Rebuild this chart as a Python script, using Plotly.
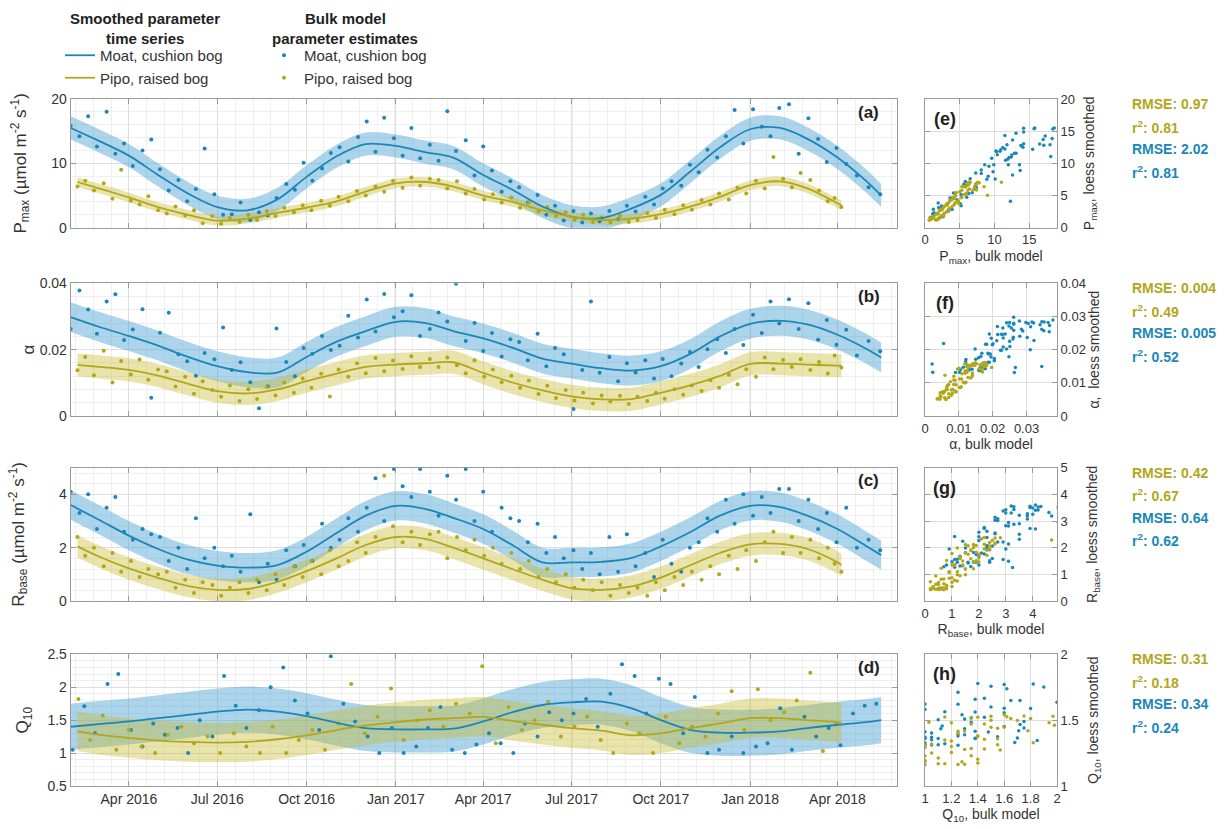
import numpy as np
import pandas as pd
import plotly.graph_objects as go

ORIGIN = pd.Timestamp("2016-02-01")

# ---------------- smoothed (loess) time series, monthly knots ----------------
MOAT_KNOTS = ["2016-02-01", "2016-03-01", "2016-04-01", "2016-05-01", "2016-06-01", "2016-07-01",
              "2016-08-01", "2016-09-01", "2016-10-01", "2016-11-01", "2016-12-01", "2017-01-01",
              "2017-02-01", "2017-03-01", "2017-04-01", "2017-05-01", "2017-06-01", "2017-07-01",
              "2017-08-01", "2017-09-01", "2017-10-01", "2017-11-01", "2017-12-01", "2018-01-01",
              "2018-02-01", "2018-03-01", "2018-04-01", "2018-05-01", "2018-05-16"]
PIPO_KNOTS = ["2016-02-08", "2016-03-01", "2016-04-01", "2016-05-01", "2016-06-01", "2016-07-01",
              "2016-08-01", "2016-09-01", "2016-10-01", "2016-11-01", "2016-12-01", "2017-01-01",
              "2017-02-01", "2017-03-01", "2017-04-01", "2017-05-01", "2017-06-01", "2017-07-01",
              "2017-08-01", "2017-09-01", "2017-10-01", "2017-11-01", "2017-12-01", "2018-01-01",
              "2018-02-01", "2018-03-01", "2018-04-01", "2018-04-05"]

PMAX_MOAT_SMOOTH = [15.5, 13.5, 11.2, 8.2, 5.3, 3.2, 2.7, 4.4, 7.9, 11.1, 13.0, 12.7, 11.7, 10.9, 8.2,
                    5.9, 3.3, 1.7, 1.5, 3.0, 5.1, 8.8, 12.5, 15.3, 15.5, 13.8, 10.9, 7.2, 5.0]
PMAX_PIPO_SMOOTH = [7.1, 6.1, 4.7, 3.2, 2.0, 1.1, 1.4, 2.3, 3.1, 4.1, 5.6, 6.9, 7.1, 6.4, 5.0,
                    4.0, 2.7, 1.7, 1.2, 1.4, 2.1, 3.3, 4.8, 6.6, 7.2, 6.1, 3.8, 3.5]
ALPHA_MOAT_SMOOTH = [0.0298, 0.0269, 0.0241, 0.0212, 0.0178, 0.0150, 0.0132, 0.0131, 0.0178, 0.0224,
                     0.0256, 0.0284, 0.0280, 0.0256, 0.0234, 0.0206, 0.0173, 0.0158, 0.0144, 0.0137,
                     0.0150, 0.0188, 0.0240, 0.0278, 0.0287, 0.0276, 0.0245, 0.0202, 0.0176]
ALPHA_PIPO_SMOOTH = [0.0154, 0.0148, 0.0139, 0.0122, 0.0097, 0.0075, 0.0068, 0.0080, 0.0105, 0.0128,
                     0.0148, 0.0155, 0.0159, 0.0162, 0.0130, 0.0101, 0.0077, 0.0059, 0.0050, 0.0051,
                     0.0070, 0.0093, 0.0121, 0.0157, 0.0158, 0.0155, 0.0152, 0.0152]
RBASE_MOAT_SMOOTH = [3.60, 3.05, 2.45, 1.95, 1.55, 1.33, 1.25, 1.35, 1.85, 2.55, 3.20, 3.57, 3.45, 3.12,
                     2.70, 2.10, 1.45, 1.45, 1.47, 1.62, 2.05, 2.60, 3.20, 3.57, 3.52, 3.20, 2.70,
                     2.05, 1.72]
RBASE_PIPO_SMOOTH = [2.05, 1.67, 1.22, 0.87, 0.56, 0.42, 0.45, 0.72, 1.12, 1.60, 2.10, 2.40, 2.32, 2.00,
                     1.60, 1.20, 0.80, 0.48, 0.42, 0.55, 0.88, 1.35, 1.80, 2.12, 2.14, 1.95, 1.45, 1.35]
Q10_MOAT_SMOOTH = [1.40, 1.44, 1.48, 1.53, 1.58, 1.63, 1.66, 1.63, 1.56, 1.46, 1.38, 1.36, 1.36, 1.37,
                   1.48, 1.62, 1.73, 1.77, 1.78, 1.68, 1.50, 1.35, 1.31, 1.31, 1.33, 1.38, 1.43, 1.47,
                   1.50]
Q10_PIPO_SMOOTH = [1.33, 1.28, 1.23, 1.19, 1.17, 1.16, 1.17, 1.21, 1.27, 1.35, 1.42, 1.47, 1.51, 1.53,
                   1.55, 1.49, 1.43, 1.38, 1.34, 1.27, 1.30, 1.38, 1.45, 1.53, 1.53, 1.50, 1.47, 1.46]

# half-widths of the confidence bands
BAND_MOAT = {"pmax": 1.8, "alpha": 0.0045, "rbase": 0.55, "q10": 0.35}
BAND_PIPO = {"pmax": 0.75, "alpha": 0.0035, "rbase": 0.42, "q10": 0.30}

# ---------------- bulk model parameter estimates (days since 2016-02-01) ----------------
MOAT_DAYS = [0, 9, 18, 27, 37, 46, 55, 64, 74, 83,
             92, 101, 111, 120, 129, 138, 148, 157, 166, 175,
             185, 194, 203, 212, 222, 231, 240, 249, 259, 268,
             277, 286, 296, 305, 314, 323, 333, 342, 351, 360,
             370, 379, 388, 397, 407, 416, 425, 434, 444, 453,
             462, 471, 481, 490, 499, 508, 518, 527, 536, 545,
             555, 564, 573, 582, 592, 601, 610, 619, 629, 638,
             647, 656, 666, 675, 684, 693, 703, 712, 721, 730,
             740, 750, 760, 770, 779, 789, 799, 810, 822, 834]
PMAX_MOAT = [15.8, 14.2, 17.3, 12.6, 18.0, 11.5, 13.1, 9.6, 12.0, 13.7,
             9.1, 5.8, 7.4, 4.1, 6.0, 12.3, 5.2, 2.0, 2.1, 3.9,
             1.2, 2.4, 1.9, 4.6, 6.8, 5.9, 10.1, 7.3, 9.2, 11.6,
             12.5, 10.3, 14.1, 16.5, 11.8, 17.1, 13.9, 11.2, 15.5, 10.8,
             12.9, 10.4, 18.1, 11.9, 13.6, 8.1, 12.6, 8.9, 5.6, 7.2,
             6.3, 3.9, 5.1, 2.0, 3.4, 1.1, 2.6, 0.8, 2.2, 1.0,
             2.6, 1.3, 3.4, 2.5, 4.8, 3.6, 6.1, 7.2, 6.5, 9.8,
             8.6, 12.1, 10.9, 14.2, 18.3, 13.1, 18.4, 15.7, 14.2, 18.6,
             19.2, 11.5, 17.0, 13.8, 10.2, 12.4, 9.9, 8.1, 6.3, 5.2]
ALPHA_MOAT = [0.0262, 0.0378, 0.0321, 0.0248, 0.0345, 0.0367, 0.0229, 0.0261, 0.0322, 0.0055,
              0.0251, 0.0311, 0.0186, 0.0165, 0.0121, 0.0190, 0.0171, 0.0267, 0.0139, 0.0162,
              0.0102, 0.0023, 0.0090, 0.0264, 0.0163, 0.0120, 0.0205, 0.0188, 0.0241, 0.0199,
              0.0212, 0.0302, 0.0237, 0.0351, 0.0255, 0.0368, 0.0298, 0.0316, 0.0364, 0.0241,
              0.0262, 0.0312, 0.0285, 0.0399, 0.0226, 0.0280, 0.0196, 0.0250, 0.0179, 0.0231,
              0.0223, 0.0168, 0.0248, 0.0150, 0.0205, 0.0186, 0.0021, 0.0139, 0.0345, 0.0130,
              0.0178, 0.0105, 0.0159, 0.0131, 0.0168, 0.0113, 0.0172, 0.0120, 0.0158, 0.0193,
              0.0148, 0.0201, 0.0231, 0.0190, 0.0262, 0.0214, 0.0305, 0.0250, 0.0345, 0.0279,
              0.0352, 0.0262, 0.0340, 0.0230, 0.0289, 0.0215, 0.0260, 0.0182, 0.0226, 0.0195]
RBASE_MOAT = [4.1, 3.3, 4.0, 2.7, 3.5, 3.9, 2.6, 2.3, 2.7, 2.5,
              2.4, 1.5, 2.0, 1.2, 3.1, 1.6, 2.0, 1.3, 1.7, 1.1,
              3.25, 0.7, 1.4, 0.8, 1.9, 1.3, 2.1, 1.5, 2.9, 2.0,
              2.3, 3.1, 2.6, 3.5, 4.6, 3.0, 4.95, 4.3, 3.9, 4.95,
              4.1, 3.2, 4.7, 3.8, 4.95, 3.0, 4.1, 2.6, 3.5, 3.1,
              3.0, 2.2, 2.9, 1.8, 2.4, 1.6, 1.9, 1.2, 1.8, 1.0,
              2.4, 1.1, 2.5, 1.3, 1.8, 0.9, 2.3, 1.4, 1.1, 2.0,
              2.2, 3.1, 2.6, 3.8, 2.9, 4.0, 3.2, 3.9, 3.3, 4.2,
              4.2, 3.0, 3.8, 2.7, 3.3, 2.2, 3.5, 2.0, 2.3, 1.9]

PIPO_DAYS = [7, 15, 24, 34, 43, 52, 62, 71, 80, 90,
             99, 108, 118, 127, 136, 146, 155, 164, 174, 183,
             192, 202, 211, 220, 230, 239, 248, 258, 267, 276,
             286, 295, 304, 314, 323, 332, 342, 351, 360, 370,
             379, 388, 398, 407, 416, 426, 435, 444, 454, 463,
             472, 482, 491, 500, 510, 519, 528, 538, 547, 556,
             566, 575, 584, 594, 603, 612, 622, 631, 640, 650,
             659, 668, 678, 687, 696, 706, 715, 724, 734, 743,
             752, 762, 771, 780, 787, 794]
PMAX_PIPO = [6.4, 7.3, 5.8, 6.9, 4.5, 9.0, 4.2, 3.6, 4.9, 2.7,
             2.2, 3.3, 1.9, 2.7, 0.7, 1.8, 0.6, 1.5, 0.9, 2.0,
             1.2, 2.6, 1.8, 3.1, 2.4, 3.5, 2.7, 4.2, 3.4, 4.8,
             4.1, 5.7, 5.0, 6.4, 5.6, 7.3, 6.2, 7.8, 6.5, 7.6,
             7.4, 6.1, 7.2, 5.3, 6.0, 4.4, 5.2, 3.9, 4.7, 3.1,
             3.9, 2.5, 3.2, 1.8, 2.4, 1.2, 2.0, 0.9, 1.6, 0.8,
             1.8, 0.9, 1.2, 2.3, 1.5, 2.8, 2.1, 3.5, 2.8, 4.3,
             3.6, 5.3, 4.4, 6.2, 5.3, 7.3, 6.1, 11.0, 7.6, 6.3,
             8.5, 7.4, 5.8, 4.1, 4.6, 3.2]
ALPHA_PIPO = [0.0138, 0.0178, 0.0123, 0.0197, 0.0101, 0.0166, 0.0125, 0.0170, 0.0109, 0.0140,
              0.0135, 0.0089, 0.0118, 0.0067, 0.0105, 0.0078, 0.0058, 0.0092, 0.0045, 0.0081,
              0.0051, 0.0088, 0.0062, 0.0101, 0.0070, 0.0113, 0.0085, 0.0127, 0.0059, 0.0140,
              0.0118, 0.0159, 0.0129, 0.0175, 0.0135, 0.0167, 0.0142, 0.0180, 0.0148, 0.0172,
              0.0148, 0.0176, 0.0153, 0.0129, 0.0168, 0.0118, 0.0140, 0.0102, 0.0121, 0.0085,
              0.0107, 0.0066, 0.0091, 0.0054, 0.0078, 0.0047, 0.0070, 0.0038, 0.0062, 0.0044,
              0.0061, 0.0036, 0.0058, 0.0045, 0.0070, 0.0052, 0.0081, 0.0064, 0.0092, 0.0075,
              0.0108, 0.0085, 0.0124, 0.0096, 0.0141, 0.0118, 0.0176, 0.0141, 0.0169, 0.0148,
              0.0171, 0.0139, 0.0163, 0.0128, 0.0182, 0.0146]
RBASE_PIPO = [2.4, 1.7, 2.0, 1.3, 1.8, 1.1, 1.5, 0.9, 1.2, 1.0,
              1.1, 0.5, 0.8, 0.3, 0.7, 0.6, 0.2, 0.5, 0.7, 0.3,
              0.8, 0.4, 1.0, 0.6, 1.3, 0.9, 1.5, 1.0, 1.9, 1.3,
              1.5, 2.2, 1.8, 2.4, 4.7, 2.8, 2.2, 2.6, 2.1, 2.5,
              2.6, 1.6, 2.4, 1.9, 2.3, 1.7, 2.0, 1.4, 1.8, 1.2,
              1.5, 0.9, 1.2, 0.7, 1.0, 0.5, 0.8, 0.4, 0.7, 0.2,
              0.6, 0.3, 0.5, 0.2, 0.7, 0.4, 0.9, 0.6, 1.1, 0.8,
              1.3, 1.0, 1.7, 1.2, 1.9, 1.5, 2.2, 2.6, 1.8, 2.4,
              1.8, 2.3, 1.6, 2.0, 1.4, 1.1]

MOAT_Q10_DAYS = [2, 14, 25, 38, 49, 62, 74, 85, 97, 110,
                 121, 133, 146, 158, 170, 181, 194, 206, 219, 231,
                 244, 256, 268, 281, 293, 306, 318, 331, 343, 356,
                 368, 381, 393, 406, 418, 431, 443, 456, 468, 481,
                 493, 506, 518, 531, 543, 556, 568, 581, 593, 606,
                 618, 631, 643, 656, 668, 681, 693, 706, 718, 731,
                 743, 756, 768, 781, 793, 806, 818, 830]
Q10_MOAT = [1.05, 1.71, 1.30, 2.05, 2.20, 1.35, 1.10, 1.45, 1.28, 1.38,
            1.00, 1.50, 1.25, 2.17, 1.72, 1.38, 1.65, 2.00, 2.30, 1.80,
            1.60, 1.35, 2.47, 1.75, 1.48, 1.25, 1.00, 1.38, 1.00, 1.10,
            1.38, 1.70, 1.05, 1.00, 1.13, 1.30, 1.15, 1.00, 1.45, 1.25,
            1.62, 1.50, 1.60, 1.82, 1.40, 1.90, 2.35, 2.17, 1.60, 2.13,
            2.05, 1.30, 1.85, 1.00, 1.05, 1.25, 1.00, 1.10, 1.15, 1.68,
            1.05, 1.55, 1.25, 1.38, 1.12, 1.60, 1.72, 1.75]
PIPO_Q10_DAYS = [8, 20, 33, 47, 60, 73, 87, 100, 114, 127,
                 141, 154, 168, 181, 195, 208, 222, 235, 249, 262,
                 276, 289, 303, 316, 330, 343, 357, 370, 384, 397,
                 411, 424, 438, 451, 465, 478, 492, 505, 519, 532,
                 546, 559, 573, 586, 600, 613, 627, 640, 654, 667,
                 681, 694, 708, 721, 735, 748, 762, 775, 789]
Q10_PIPO = [1.82, 1.20, 1.57, 1.05, 1.35, 1.10, 1.00, 1.28, 1.40, 1.15,
            1.25, 1.00, 1.30, 1.10, 1.00, 1.40, 1.00, 1.20, 1.35, 1.05,
            1.45, 2.05, 1.30, 1.55, 1.98, 1.20, 1.50, 1.65, 1.40, 1.75,
            1.60, 2.32, 1.15, 1.70, 1.35, 1.50, 1.78, 1.25, 1.40, 1.55,
            1.20, 1.00, 1.45, 1.30, 1.00, 1.55, 1.15, 1.40, 1.25, 1.60,
            1.94, 1.35, 1.97, 1.50, 1.62, 1.80, 2.22, 1.03, 1.45]

# goodness-of-fit texts
STATS = {
    "pmax": ("0.97", "0.81", "2.02", "0.81"),
    "alpha": ("0.004", "0.49", "0.005", "0.52"),
    "rbase": ("0.42", "0.67", "0.64", "0.62"),
    "q10": ("0.31", "0.18", "0.34", "0.24"),
}

LEGEND_TITLES = ["Smoothed parameter", "time series", "Bulk model", "parameter estimates"]

# ---------------- styling ----------------
BLUE = "#1b87b9"
YELLOW = "#b2a71b"
BLUE_BAND = "rgba(70,160,210,0.45)"
YELLOW_BAND = "rgba(200,188,45,0.40)"
FONT = "Liberation Sans, Arial, sans-serif"
TXT = "#333333"
GRID = "#dedede"
MINOR_GRID = "#efefef"
FRAME = "#9a9a9a"

W, H = 1228, 829
MAIN_X = [70.7 / W, 896.7 / W]
SC_X = [925 / W, 1057 / W]
ROWS_PX = [(99, 227.7), (283.3, 416), (467.7, 601), (654.3, 786)]


def ydom(top, bot):
    return [1 - bot / H, 1 - top / H]


def to_dates(days):
    return ORIGIN + pd.to_timedelta(np.asarray(days), unit="D")


def knot_days(knots):
    return np.asarray((pd.to_datetime(knots) - ORIGIN).days, dtype=float)


panels = [
    dict(key="pmax", lab="(a)", slab="(e)",
         mdays=MOAT_DAYS, mval=PMAX_MOAT, pdays=PIPO_DAYS, pval=PMAX_PIPO,
         msm=PMAX_MOAT_SMOOTH, psm=PMAX_PIPO_SMOOTH,
         yrange=[0, 20], dtick=10, minor=2, ytitle="P<sub>max</sub> (µmol m<sup>-2</sup> s<sup>-1</sup>)",
         standoff=20, sx=[0, 19], sxd=5, sy=[0, 20], syd=5,
         sxt="P<sub>max</sub>, bulk model", syt="P<sub>max</sub>, loess smoothed", sstand=10),
    dict(key="alpha", lab="(b)", slab="(f)",
         mdays=MOAT_DAYS, mval=ALPHA_MOAT, pdays=PIPO_DAYS, pval=ALPHA_PIPO,
         msm=ALPHA_MOAT_SMOOTH, psm=ALPHA_PIPO_SMOOTH,
         yrange=[0, 0.04], dtick=0.02, minor=0.004, ytitle="α",
         standoff=0, sx=[0, 0.039], sxd=0.01, sy=[0, 0.04], syd=0.01,
         sxt="α, bulk model", syt="α,  loess smoothed", sstand=4),
    dict(key="rbase", lab="(c)", slab="(g)",
         mdays=MOAT_DAYS, mval=RBASE_MOAT, pdays=PIPO_DAYS, pval=RBASE_PIPO,
         msm=RBASE_MOAT_SMOOTH, psm=RBASE_PIPO_SMOOTH,
         yrange=[0, 5], dtick=2, minor=0.4, ytitle="R<sub>base</sub> (µmol m<sup>-2</sup> s<sup>-1</sup>)",
         standoff=30, sx=[0, 4.9], sxd=1, sy=[0, 5], syd=1,
         sxt="R<sub>base</sub>, bulk model", syt="R<sub>base</sub>, loess smoothed", sstand=20),
    dict(key="q10", lab="(d)", slab="(h)",
         mdays=MOAT_Q10_DAYS, mval=Q10_MOAT, pdays=PIPO_Q10_DAYS, pval=Q10_PIPO,
         msm=Q10_MOAT_SMOOTH, psm=Q10_PIPO_SMOOTH,
         yrange=[0.5, 2.5], dtick=0.5, minor=0.1, ytitle="Q<sub>10</sub>",
         standoff=14, sx=[1, 2], sxd=0.2, sy=[1, 2], syd=0.5,
         sxt="Q<sub>10</sub>, bulk model", syt="Q<sub>10</sub>, loess smoothed", sstand=10),
]

fig = go.Figure()
mk_m = knot_days(MOAT_KNOTS)
mk_p = knot_days(PIPO_KNOTS)
layout = {}
annotations = []

for i, p in enumerate(panels):
    n = i + 1
    xa = "x" if n == 1 else f"x{n}"
    ya = "y" if n == 1 else f"y{n}"
    sn = n + 4
    sxa, sya = f"x{sn}", f"y{sn}"

    msm = np.asarray(p["msm"])
    psm = np.asarray(p["psm"])
    hm = BAND_MOAT[p["key"]]
    hp = BAND_PIPO[p["key"]]
    mdates = pd.to_datetime(MOAT_KNOTS)
    pdates = pd.to_datetime(PIPO_KNOTS)

    # bands
    for dates, sm, hw, col in [(mdates, msm, hm, BLUE_BAND), (pdates, psm, hp, YELLOW_BAND)]:
        fig.add_trace(go.Scatter(x=dates, y=sm + hw, mode="lines", line=dict(width=0, shape="spline"),
                                 xaxis=xa, yaxis=ya, showlegend=False, hoverinfo="skip"))
        fig.add_trace(go.Scatter(x=dates, y=sm - hw, mode="lines", line=dict(width=0, shape="spline"),
                                 fill="tonexty", fillcolor=col, xaxis=xa, yaxis=ya,
                                 showlegend=False, hoverinfo="skip"))
    # dots
    fig.add_trace(go.Scatter(x=to_dates(p["mdays"]), y=p["mval"], mode="markers",
                             marker=dict(size=4, color=BLUE), xaxis=xa, yaxis=ya,
                             name="Moat, cushion bog", legend="legend2", showlegend=(n == 1)))
    fig.add_trace(go.Scatter(x=to_dates(p["pdays"]), y=p["pval"], mode="markers",
                             marker=dict(size=4, color=YELLOW), xaxis=xa, yaxis=ya,
                             name="Pipo, raised bog", legend="legend2", showlegend=(n == 1)))
    # smoothed lines
    fig.add_trace(go.Scatter(x=mdates, y=msm, mode="lines", line=dict(color=BLUE, width=1.8, shape="spline"),
                             xaxis=xa, yaxis=ya, name="Moat, cushion bog", legend="legend",
                             showlegend=(n == 1)))
    fig.add_trace(go.Scatter(x=pdates, y=psm, mode="lines", line=dict(color=YELLOW, width=1.8, shape="spline"),
                             xaxis=xa, yaxis=ya, name="Pipo, raised bog", legend="legend",
                             showlegend=(n == 1)))

    # scatter: bulk estimate vs smoothed value on the same day
    m_sm_at = np.interp(np.asarray(p["mdays"], float), mk_m, msm)
    p_sm_at = np.interp(np.asarray(p["pdays"], float), mk_p, psm)
    fig.add_trace(go.Scatter(x=p["mval"], y=m_sm_at, mode="markers", marker=dict(size=3.5, color=BLUE),
                             xaxis=sxa, yaxis=sya, showlegend=False))
    fig.add_trace(go.Scatter(x=p["pval"], y=p_sm_at, mode="markers", marker=dict(size=3.5, color=YELLOW),
                             xaxis=sxa, yaxis=sya, showlegend=False))

    top, bot = ROWS_PX[i]
    dom = ydom(top, bot)
    hpx = bot - top
    axis_common = dict(showline=True, linecolor=FRAME, linewidth=1, mirror="ticks", ticks="inside",
                       ticklen=5, tickcolor=FRAME, showgrid=True, gridcolor=GRID, zeroline=False,
                       automargin=False, tickfont=dict(family=FONT, size=14, color=TXT))
    xkey = "xaxis" if n == 1 else f"xaxis{n}"
    ykey = "yaxis" if n == 1 else f"yaxis{n}"
    layout[xkey] = dict(axis_common, type="date", domain=MAIN_X, anchor=ya,
                        range=["2016-02-01", "2018-06-01"], dtick="M3", tick0="2016-01-01",
                        tickformat="%b %Y", showticklabels=(n == 4),
                        minor=dict(dtick=18.26 * 86400000, tick0="2016-04-01", showgrid=True,
                                   gridcolor=MINOR_GRID, ticks=""))
    layout[ykey] = dict(axis_common, domain=dom, anchor=xa, range=p["yrange"], dtick=p["dtick"],
                        tick0=p["yrange"][0],
                        minor=dict(dtick=p["minor"], showgrid=True, gridcolor=MINOR_GRID, ticks=""),
                        title=dict(text=p["ytitle"], standoff=p["standoff"],
                                   font=dict(family=FONT, size=17, color=TXT)))
    layout[f"xaxis{sn}"] = dict(axis_common, domain=SC_X, anchor=sya, range=p["sx"], dtick=p["sxd"],
                                tick0=p["sx"][0], tickfont=dict(family=FONT, size=13, color=TXT),
                                title=dict(text=p["sxt"], standoff=4,
                                           font=dict(family=FONT, size=14, color=TXT)))
    layout[f"yaxis{sn}"] = dict(axis_common, domain=dom, anchor=sxa, side="right", range=p["sy"],
                                dtick=p["syd"], tick0=p["sy"][0],
                                tickfont=dict(family=FONT, size=13, color=TXT),
                                title=dict(text=p["syt"], standoff=p["sstand"],
                                           font=dict(family=FONT, size=14, color=TXT)))

    annotations.append(dict(text=f"<b>{p['lab']}</b>", xref=f"{xa} domain", yref=f"{ya} domain",
                            x=0.966, y=1 - 13 / hpx, xanchor="center", yanchor="middle", showarrow=False,
                            font=dict(family=FONT, size=17, color="#222")))
    annotations.append(dict(text=f"<b>{p['slab']}</b>", xref=f"{sxa} domain", yref=f"{sya} domain",
                            x=0.15, y=1 - 20 / hpx, xanchor="center", yanchor="middle", showarrow=False,
                            font=dict(family=FONT, size=18, color="#222")))
    st = STATS[p["key"]]
    lines = [(f"RMSE: {st[0]}", YELLOW), (f"r<sup>2</sup>: {st[1]}", YELLOW),
             (f"RMSE: {st[2]}", BLUE), (f"r<sup>2</sup>: {st[3]}", BLUE)]
    for k, (t, c) in enumerate(lines):
        annotations.append(dict(text=f"<b>{t}</b>", xref="paper", yref=f"{sya} domain",
                                x=1130 / W, y=1 - (5 + 22.5 * k) / hpx, xanchor="left", yanchor="middle",
                                showarrow=False, font=dict(family=FONT, size=14, color=c)))

# legend headers (centred two-line titles)
for t, (cx, cy) in zip(LEGEND_TITLES, [(145, 18), (145, 38), (345, 18), (345, 38)]):
    annotations.append(dict(text=f"<b>{t}</b>", xref="paper", yref="paper", x=cx / W, y=1 - cy / H,
                            xanchor="center", yanchor="middle", showarrow=False,
                            font=dict(family=FONT, size=15, color="#222")))

fig.update_layout(
    width=W, height=H, margin=dict(l=0, r=0, t=0, b=0, autoexpand=False),
    paper_bgcolor="white", plot_bgcolor="white",
    font=dict(family=FONT, size=14, color=TXT),
    annotations=annotations,
    legend=dict(x=60 / W, y=1 - 39 / H, xanchor="left", yanchor="top", bgcolor="rgba(0,0,0,0)",
                traceorder="normal", font=dict(family=FONT, size=15, color=TXT),
                itemwidth=30, tracegroupgap=0),
    legend2=dict(x=264 / W, y=1 - 39 / H, xanchor="left", yanchor="top", bgcolor="rgba(0,0,0,0)",
                 traceorder="normal", font=dict(family=FONT, size=15, color=TXT),
                 itemwidth=30, tracegroupgap=0),
    **layout,
)

fig.write_html("out.html", config={"displayModeBar": False},
               post_script="document.body.style.margin='0px';")
